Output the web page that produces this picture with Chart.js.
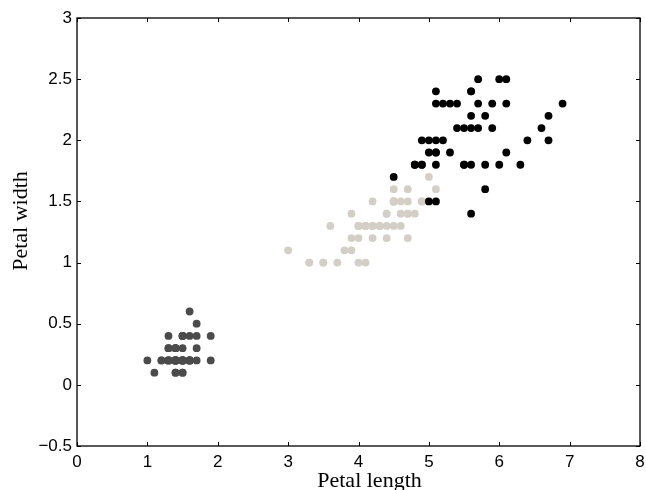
<!DOCTYPE html>
<html><head><meta charset="utf-8">
<script src="https://cdn.jsdelivr.net/npm/chart.js@4"></script>
<style>html,body{margin:0;padding:0;background:#fff}#wrap{width:646px;height:490px}</style>
</head><body><div id="wrap"><canvas id="c" width="646" height="490"></canvas></div>
<script>
const setosaLength = [1.4,1.4,1.3,1.5,1.4,1.7,1.4,1.5,1.4,1.5,1.5,1.6,1.4,1.1,1.2,1.5,1.3,1.4,1.7,1.5,1.7,1.5,1.0,1.7,1.9,1.6,1.6,1.5,1.4,1.6,1.6,1.5,1.5,1.4,1.5,1.2,1.3,1.4,1.3,1.5,1.3,1.3,1.3,1.6,1.9,1.4,1.6,1.4,1.5,1.4];
const setosaWidth  = [0.2,0.2,0.2,0.2,0.2,0.4,0.3,0.2,0.2,0.1,0.2,0.2,0.1,0.1,0.2,0.4,0.4,0.3,0.3,0.3,0.2,0.4,0.2,0.5,0.2,0.2,0.4,0.2,0.2,0.2,0.2,0.4,0.1,0.2,0.2,0.2,0.2,0.1,0.2,0.2,0.3,0.3,0.2,0.6,0.4,0.3,0.2,0.2,0.2,0.2];
const versicolorLength = [4.7,4.5,4.9,4.0,4.6,4.5,4.7,3.3,4.6,3.9,3.5,4.2,4.0,4.7,3.6,4.4,4.5,4.1,4.5,3.9,4.8,4.0,4.9,4.7,4.3,4.4,4.8,5.0,4.5,3.5,3.8,3.7,3.9,5.1,4.5,4.5,4.7,4.4,4.1,4.0,4.4,4.6,4.0,3.3,4.2,4.2,4.2,4.3,3.0,4.1];
const versicolorWidth  = [1.4,1.5,1.5,1.3,1.5,1.3,1.6,1.0,1.3,1.4,1.0,1.5,1.0,1.4,1.3,1.4,1.5,1.0,1.5,1.1,1.8,1.3,1.5,1.2,1.3,1.4,1.4,1.7,1.5,1.0,1.1,1.0,1.2,1.6,1.5,1.6,1.5,1.3,1.3,1.3,1.2,1.4,1.2,1.0,1.3,1.2,1.3,1.3,1.1,1.3];
const virginicaLength = [6.0,5.1,5.9,5.6,5.8,6.6,4.5,6.3,5.8,6.1,5.1,5.3,5.5,5.0,5.1,5.3,5.5,6.7,6.9,5.0,5.7,4.9,6.7,4.9,5.7,6.0,4.8,4.9,5.6,5.8,6.1,6.4,5.6,5.1,5.6,6.1,5.6,5.5,4.8,5.4,5.6,5.1,5.1,5.9,5.7,5.2,5.0,5.2,5.4,5.1];
const virginicaWidth  = [2.5,1.9,2.1,1.8,2.2,2.1,1.7,1.8,1.8,2.5,2.0,1.9,2.1,2.0,2.4,2.3,1.8,2.2,2.3,1.5,2.3,2.0,2.0,1.8,2.1,1.8,1.8,1.8,2.1,1.6,1.9,2.0,2.2,1.5,1.4,2.3,2.4,1.8,1.8,2.1,2.4,2.3,1.9,2.3,2.5,2.3,1.9,2.0,2.3,1.8];
const xTicks = [0,1,2,3,4,5,6,7,8];
const yTicks = [-0.5,0,0.5,1,1.5,2,2.5,3];

function pts(xs, ys){ return xs.map((x,i)=>({x:x,y:ys[i]})); }

const tickFont = {family:'"Liberation Sans", Arial, sans-serif', size:17};
const titleFont = {family:'"Liberation Serif", "Times New Roman", serif', size:22};

const inwardTicks = {
  id:'inwardTicks',
  afterDraw(chart){
    const ctx = chart.ctx, a = chart.chartArea;
    const xs = chart.scales.x, ys = chart.scales.y;
    ctx.save();
    ctx.strokeStyle = '#000'; ctx.lineWidth = 1;
    const L = 4;
    xTicks.forEach(v=>{
      const p = Math.round(xs.getPixelForValue(v))+0.5;
      ctx.beginPath(); ctx.moveTo(p,a.bottom); ctx.lineTo(p,a.bottom-L);
      ctx.moveTo(p,a.top); ctx.lineTo(p,a.top+L); ctx.stroke();
    });
    yTicks.forEach(v=>{
      const p = Math.round(ys.getPixelForValue(v))+0.5;
      ctx.beginPath(); ctx.moveTo(a.left,p); ctx.lineTo(a.left+L,p);
      ctx.moveTo(a.right,p); ctx.lineTo(a.right-L,p); ctx.stroke();
    });
    ctx.lineWidth = 1.3;
    ctx.strokeRect(a.left, a.top, a.right-a.left, a.bottom-a.top);
    ctx.restore();
  }
};

new Chart(document.getElementById('c'), {
  type:'scatter',
  data:{datasets:[
    {label:'setosa', data:pts(setosaLength,setosaWidth), backgroundColor:'#4b4b4b', borderWidth:0, pointRadius:3.9, order:2},
    {label:'versicolor', data:pts(versicolorLength,versicolorWidth), backgroundColor:'#d3cfc7', borderWidth:0, pointRadius:3.9, order:1},
    {label:'virginica', data:pts(virginicaLength,virginicaWidth), backgroundColor:'#000000', borderWidth:0, pointRadius:3.9, order:0}
  ]},
  options:{
    responsive:false, animation:false, events:[],
    layout:{padding:{top:18, right:6, left:0, bottom:0}},
    plugins:{legend:{display:false}, tooltip:{enabled:false}},
    scales:{
      x:{type:'linear', min:0, max:8,
        afterBuildTicks(s){ s.ticks = xTicks.map(v=>({value:v})); },
        afterFit(s){ s.height = 44; s.paddingLeft = 0; s.paddingRight = 0; },
        grid:{display:false, drawTicks:false},
        border:{display:false},
        ticks:{color:'#000', font:tickFont, padding:6, maxRotation:0, callback:v=>String(v)},
        title:{display:true, text:'\u2003Petal length', color:'#000', font:titleFont, padding:{top:2,bottom:-4}}
      },
      y:{type:'linear', min:-0.5, max:3,
        afterBuildTicks(s){ s.ticks = yTicks.map(v=>({value:v})); },
        afterFit(s){ s.width = 77; s.paddingTop = 0; s.paddingBottom = 0; },
        grid:{display:false, drawTicks:false},
        border:{display:false},
        ticks:{color:'#000', font:tickFont, padding:5, callback:v=>(v<0?'\u2212':'')+String(Math.abs(v))},
        title:{display:true, text:'\u2003Petal width', color:'#000', font:titleFont, padding:{top:8,bottom:0}}
      }
    }
  },
  plugins:[inwardTicks]
});
</script></body></html>
